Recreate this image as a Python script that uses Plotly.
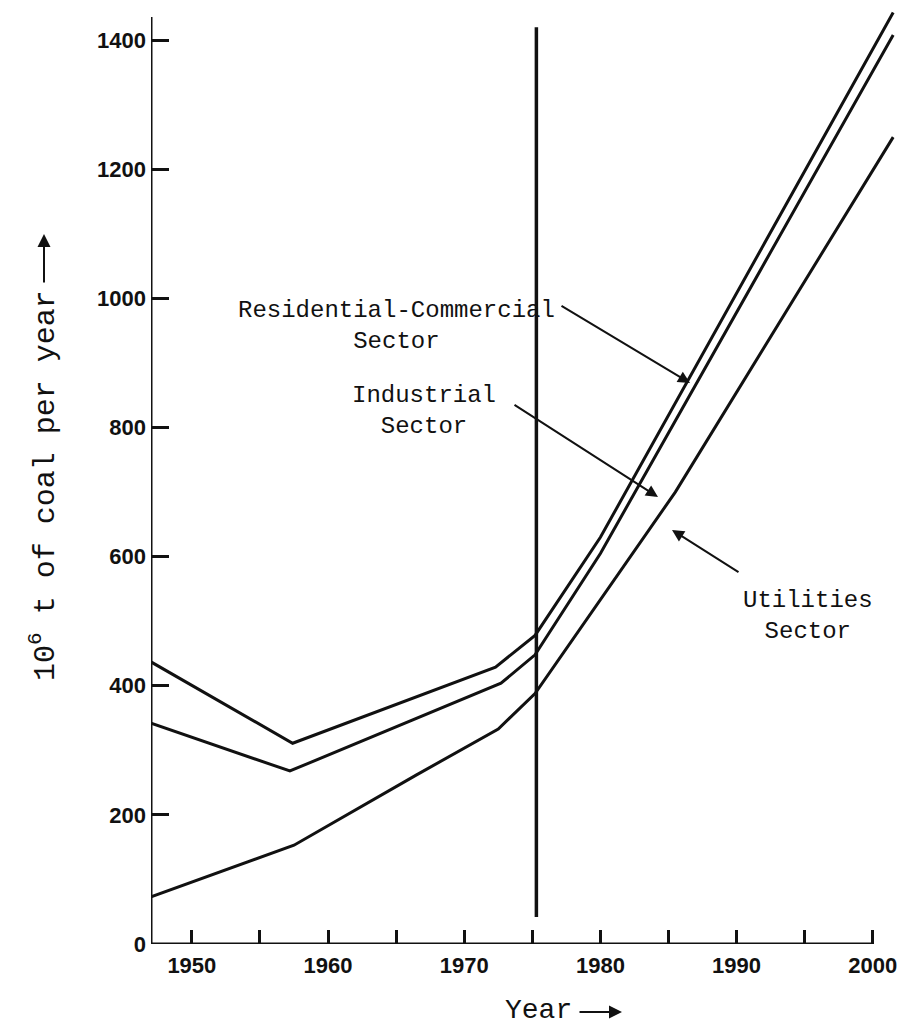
import plotly.graph_objects as go

# Coal demand by sector, cumulative curves (10^6 t per year)
utilities_years = [1947, 1957.5, 1966.5, 1972.5, 1975.2, 1985.5, 2001.5]
utilities_values = [73, 153, 262, 333, 388, 700, 1250]

industrial_years = [1947, 1957.2, 1972.7, 1975.2, 1980, 2001.5]
industrial_values = [342, 268, 404, 448, 605, 1408]

rescom_years = [1947, 1957.4, 1972.3, 1975.2, 1980, 2001.5]
rescom_values = [437, 311, 429, 478, 630, 1443]

# divider between historical and projected years
divider_year = 1975.3
divider_span = [42, 1420]

x_tickvals = [1950, 1955, 1960, 1965, 1970, 1975, 1980, 1985, 1990, 1995, 2000]
x_ticktext = ["1950", "", "1960", "", "1970", "", "1980", "", "1990", "", "2000"]
y_tickvals = [0, 200, 400, 600, 800, 1000, 1200, 1400]

W, H = 923, 1035
L, R, T, B = 151, 23, 8, 91
X0, X1 = 1947, 2002
Y0, Y1 = 0, 1450
PW, PH = W - L - R, H - T - B
PX_PER_UNIT = PH / (Y1 - Y0)


def px_paper_x(px):
    return (px - L) / PW


def px_paper_y(py):
    return (H - B - py) / PH


def dy(py):
    return (H - B - py) / PX_PER_UNIT


MONO = "Liberation Mono, Courier New, monospace"
SANS = "Liberation Sans, Arial, sans-serif"
INK = "#111111"

fig = go.Figure()
for xs, ys in [(utilities_years, utilities_values),
               (industrial_years, industrial_values),
               (rescom_years, rescom_values)]:
    fig.add_trace(go.Scatter(x=xs, y=ys, mode="lines",
                             line=dict(color=INK, width=3),
                             showlegend=False, hoverinfo="skip"))

# axis lines
fig.add_shape(type="line", x0=X0, x1=X0, y0=0, y1=dy(17),
              line=dict(color=INK, width=3))
fig.add_shape(type="line", x0=X0, x1=2000, y0=0, y1=0,
              line=dict(color=INK, width=3))
# divider
fig.add_shape(type="line", x0=divider_year, x1=divider_year,
              y0=divider_span[0], y1=divider_span[1],
              line=dict(color=INK, width=3.5))

annotations = []


def label(text, cx, cy, size, angle=0):
    annotations.append(dict(x=px_paper_x(cx), y=px_paper_y(cy),
                            xref="paper", yref="paper",
                            xanchor="center", yanchor="middle",
                            text=text, showarrow=False, align="center",
                            textangle=angle,
                            font=dict(family=MONO, size=size, color=INK)))


def arrow(tail, tip, head=2, size=1.2, width=2):
    annotations.append(dict(x=px_paper_x(tip[0]), y=px_paper_y(tip[1]),
                            xref="paper", yref="paper",
                            ax=tail[0] - tip[0], ay=tail[1] - tip[1], text="",
                            showarrow=True, arrowhead=head, arrowsize=size,
                            arrowwidth=width, arrowcolor=INK))


label("Residential-Commercial<br>Sector", 396, 326, 24)
label("Industrial<br>Sector", 424, 411, 24)
label("Utilities<br>Sector", 808, 616, 24)
arrow((560, 305), (690, 383))
arrow((513, 404), (658, 497))
arrow((740, 573), (672, 530))

# axis titles
label("Year", 538, 1010, 28)
arrow((578, 1012), (622, 1012), head=2, size=1.3, width=2)
label("10<sup>6</sup> t of coal per year", 44, 486, 30, angle=-90)
arrow((44, 284), (44, 234), head=2, size=1.3, width=2)

fig.update_layout(
    width=W, height=H, autosize=False,
    margin=dict(l=L, r=R, t=T, b=B),
    paper_bgcolor="white", plot_bgcolor="white",
    annotations=annotations,
    xaxis=dict(range=[X0, X1], tickvals=x_tickvals, ticktext=x_ticktext,
               ticks="inside", ticklen=14, tickwidth=2.5, tickcolor=INK,
               showgrid=False, zeroline=False, showline=False,
               ticklabelstandoff=6,
               tickfont=dict(family=SANS, size=22, color=INK, weight="bold")),
    yaxis=dict(range=[Y0, Y1], tickvals=y_tickvals,
               ticks="inside", ticklen=18, tickwidth=2.5, tickcolor=INK,
               showgrid=False, zeroline=False, showline=False,
               ticklabelstandoff=4,
               tickfont=dict(family=SANS, size=22, color=INK, weight="bold")),
)

fig.write_html("out.html")
